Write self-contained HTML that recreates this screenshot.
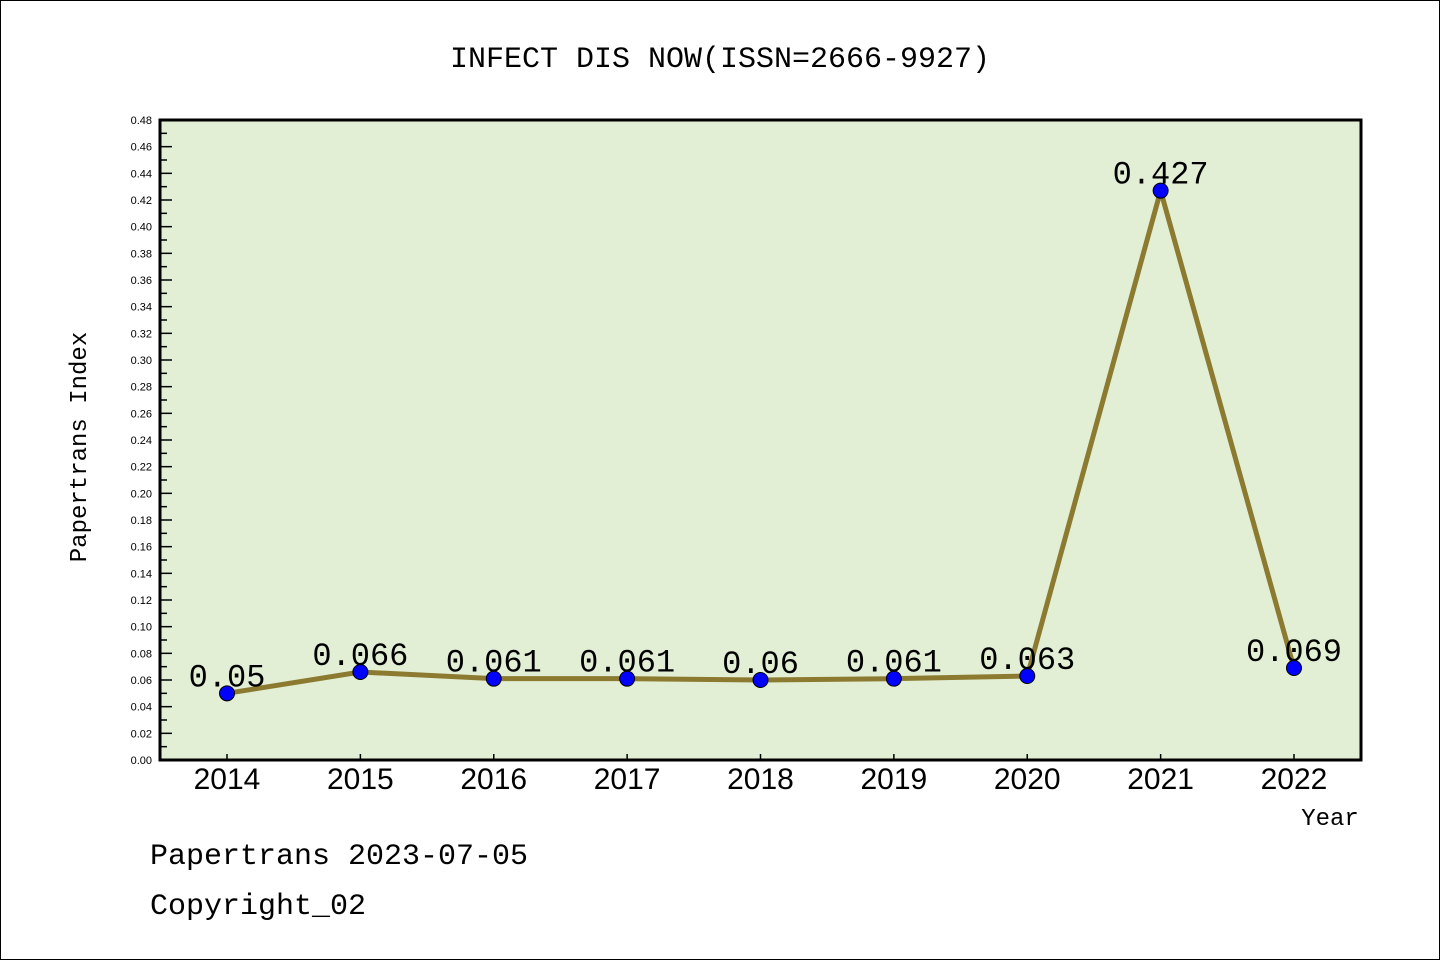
<!DOCTYPE html>
<html><head><meta charset="utf-8"><style>
html,body{margin:0;padding:0;background:#fff;}
svg{display:block;font-family:"Liberation Mono","DejaVu Sans Mono",monospace;}
</style></head><body>
<svg id="chart" width="1440" height="960" viewBox="0 0 1440 960">
<rect x="0.5" y="0.5" width="1439" height="959" fill="#fff" stroke="#000" stroke-width="1"/>
<text x="720" y="67" text-anchor="middle" font-size="30">INFECT DIS NOW(ISSN=2666-9927)</text>
<rect x="160" y="120" width="1201" height="640" fill="#e2efd5"/>
<g id="yaxis"></g>
<g id="xaxis"></g>
<g id="series"></g>
<rect x="160" y="120" width="1201" height="640" fill="none" stroke="#000" stroke-width="3"/>
<text x="86" y="447" text-anchor="middle" font-size="24" transform="rotate(-90 86 447)">Papertrans Index</text>
<text x="1330" y="825" text-anchor="middle" font-size="24">Year</text>
<text x="150" y="864" font-size="30">Papertrans 2023-07-05</text>
<text x="150" y="914" font-size="30">Copyright_02</text>
</svg>
<script>
const categories = ["2014","2015","2016","2017","2018","2019","2020","2021","2022"];
const values = [0.05,0.066,0.061,0.061,0.06,0.061,0.063,0.427,0.069];
const valueLabels = ["0.05","0.066","0.061","0.061","0.06","0.061","0.063","0.427","0.069"];
const yTicks = [0,0.02,0.04,0.06,0.08,0.10,0.12,0.14,0.16,0.18,0.20,0.22,0.24,0.26,0.28,0.30,0.32,0.34,0.36,0.38,0.40,0.42,0.44,0.46,0.48];
const NS="http://www.w3.org/2000/svg";
const yMin=0,yMax=0.48,plotTop=120,plotBot=760,plotLeft=160;
function yPos(v){return plotBot-(v-yMin)/(yMax-yMin)*(plotBot-plotTop);}
function xPos(i){return 227+i*(1294-227)/(categories.length-1);}
function mk(tag,attrs,parent){const e=document.createElementNS(NS,tag);for(const k in attrs)e.setAttribute(k,attrs[k]);parent.appendChild(e);return e;}
const ya=document.getElementById('yaxis'),xa=document.getElementById('xaxis'),sg=document.getElementById('series');
yTicks.forEach((t,i)=>{
  const yy=yPos(t);
  const l=mk('line',{x1:plotLeft,x2:plotLeft+12,y1:yy,y2:yy,stroke:'#000','stroke-width':1.5},ya);
  
  
  const tx=mk('text',{x:152,y:yy+4,'text-anchor':'end','font-size':11,'font-family':'Liberation Sans, sans-serif'},ya);
  tx.textContent=t.toFixed(2);
  
  
  if(i<yTicks.length-1){
    const ym=yPos(t+0.01);
    const m=mk('line',{x1:plotLeft,x2:plotLeft+7,y1:ym,y2:ym,stroke:'#000','stroke-width':1.5},ya);
    
    
  }
});
categories.forEach((c,i)=>{
  const xx=xPos(i);
  const l=mk('line',{x1:xx,x2:xx,y1:plotBot,y2:plotBot-6,stroke:'#000','stroke-width':1.5},xa);
  
  
  const tx=mk('text',{x:xx,y:789,'text-anchor':'middle','font-size':30,'font-family':'Liberation Sans, sans-serif'},xa);
  tx.textContent=c;
  
  
});
const pts=values.map((v,i)=>xPos(i)+','+yPos(v)).join(' ');
const pl=mk('polyline',{points:pts,fill:'none',stroke:'#8c7a30','stroke-width':5,'stroke-linejoin':'round'},sg);


values.forEach((v,i)=>{
  const c=mk('circle',{cx:xPos(i),cy:yPos(v),r:7.5,fill:'#0000ff',stroke:'#000','stroke-width':1},sg);
  
  
  const t=mk('text',{x:xPos(i),y:yPos(v)-7,'text-anchor':'middle','font-size':32},sg);
  t.textContent=valueLabels[i];
  
  
});
</script>
</body></html>
